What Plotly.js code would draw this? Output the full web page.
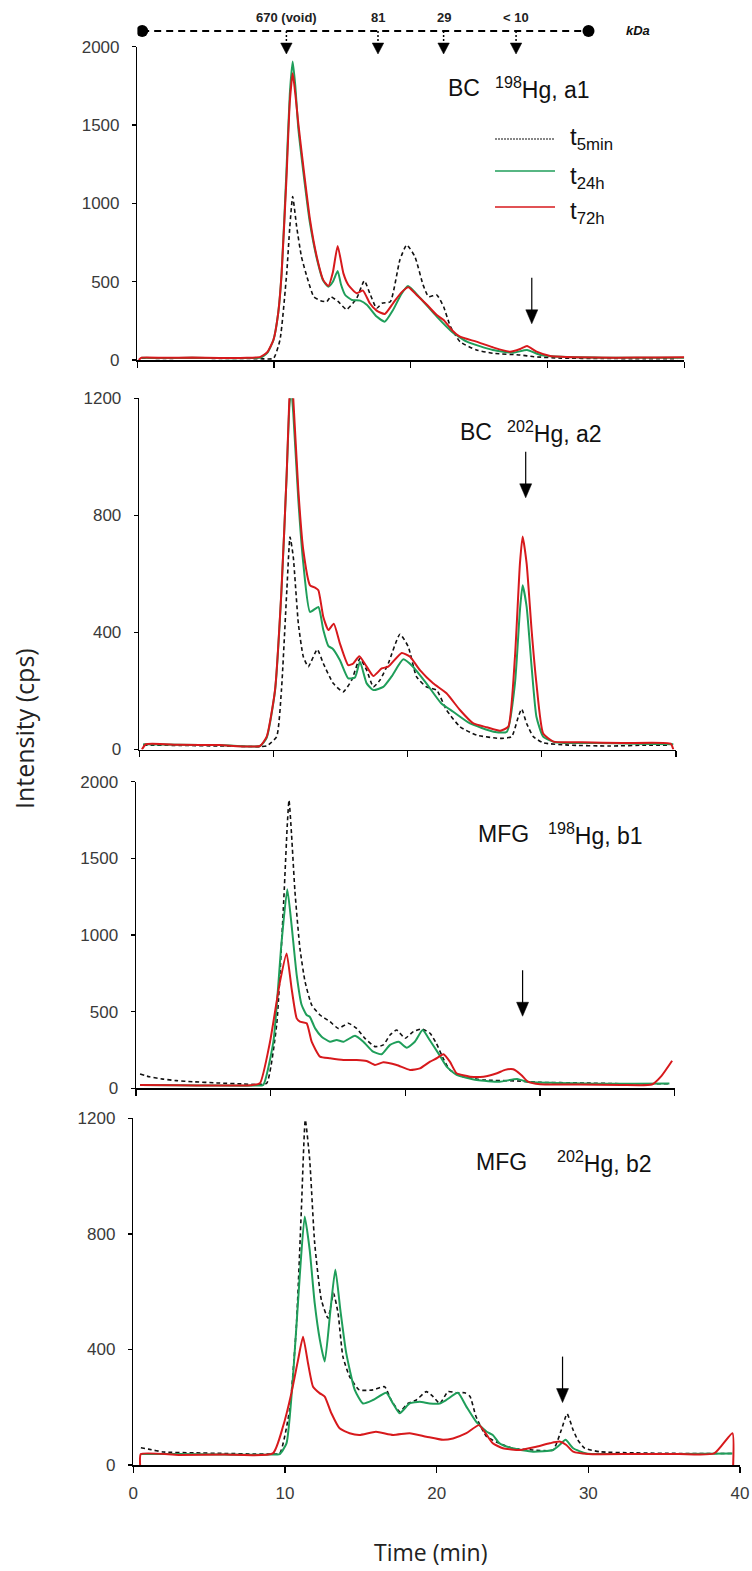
<!DOCTYPE html>
<html>
<head>
<meta charset="utf-8">
<script src="https://cdn.plot.ly/plotly-3.0.1.min.js"></script>
<style>html,body{margin:0;padding:0;background:#fff;}#chart{width:752px;height:1571px;}</style>
</head>
<body>
<div id="chart"></div>
<script>
// ---------- DATA (time in min, intensity in cps) ----------
// Panel a1: BC 198Hg
const a1_t5_x = [0.3,2,4,6,8,9,9.95,10.43,10.92,11.15,11.36,11.65,12.0,12.4,12.9,13.4,13.85,14.14,14.7,15.3,16.04,16.6,17.0,17.5,17.9,18.5,19.2,19.7,20.3,20.9,21.3,21.9,22.4,22.9,23.6,24.8,26.0,28.0,29.0,31,34,37,39.5];
const a1_t5_y = [12,10,12,10,10,8,10,128,553,850,1043,851,660,532,404,379,372,404,372,323,394,506,426,330,362,372,638,734,660,479,404,415,340,213,117,64,43,32,21,12,10,8,8];
const a1_t24_x = [0.3,2,4,6,8,9.0,9.5,9.95,10.3,10.55,10.9,11.15,11.36,11.55,11.77,12.14,12.63,13.12,13.6,13.97,14.3,14.65,14.9,15.2,15.7,16.3,16.8,17.5,18.1,18.7,19.3,19.8,20.7,21.9,23.0,24.1,26.0,27.5,28.5,29.5,31,34,37,40];
const a1_t24_y = [15,12,14,12,12,15,45,128,300,553,1200,1700,1905,1750,1480,1200,870,650,505,468,500,568,480,415,383,379,351,277,245,319,420,472,394,277,181,117,64,47,64,32,20,15,15,15];
const a1_t72_x = [0.1,0.3,2,4,6,8,9.0,9.5,9.95,10.3,10.55,10.9,11.15,11.36,11.55,11.77,12.14,12.63,13.12,13.6,13.97,14.3,14.65,15.07,15.43,16.04,16.5,17.0,17.5,18.1,18.7,19.3,19.82,20.43,21.2,21.9,22.4,23.0,23.6,24.8,26.0,27.26,28.0,28.5,29.2,30.2,32,35,38,40];
const a1_t72_y = [0,15,14,16,13,14,20,50,128,300,553,1150,1650,1830,1700,1511,1234,894,660,510,472,560,728,553,479,426,443,362,315,294,362,430,464,415,351,287,255,192,149,117,81,53,70,89,53,26,18,15,16,18];

// Panel a2: BC 202Hg
const a2_t5_x = [0.3,3,6,9,9.5,10.24,10.6,11.0,11.24,11.48,11.86,12.23,12.6,13.27,13.72,14.46,15.2,15.83,16.45,16.95,17.45,17.94,18.56,19.43,20.05,20.67,21.4,22.16,22.9,23.9,25.15,26.9,27.75,28.25,28.5,28.87,29.37,30.1,32,35,38,39.5];
const a2_t5_y = [15,14,12,10,12,44,203,544,726,658,430,317,283,342,294,226,197,237,311,271,214,237,294,394,351,248,214,203,135,78,49,38,44,112,138,89,44,23,15,12,15,15];
const a2_t24_x = [0.3,3,6,9.0,9.5,10.12,10.6,10.99,11.2,11.33,11.48,11.86,12.23,12.73,13.35,13.72,14.1,14.4,14.96,15.58,16.08,16.45,16.95,17.45,18.19,18.8,19.68,20.4,21.4,22.5,23.4,24.65,26.4,27.4,28.0,28.37,28.57,28.87,29.24,29.6,30.1,31,34,37,39.8];
const a2_t24_y = [18,16,15,12,40,200,540,940,1180,1230,1150,851,635,470,487,408,353,345,305,243,246,300,226,203,214,249,308,283,226,158,129,89,61,61,226,476,561,487,283,112,44,25,22,20,18];
const a2_t72_x = [0.2,0.5,3,6,9.0,9.5,10.12,10.6,10.99,11.19,11.33,11.48,11.86,12.23,12.73,13.1,13.35,13.72,14.1,14.5,14.96,15.58,15.95,16.4,16.95,17.45,18.07,18.56,19.56,20.18,20.92,21.9,22.9,23.9,24.9,25.9,26.9,27.5,28.0,28.37,28.57,28.87,29.24,29.6,30.1,30.86,33,36,39.6,39.8];
const a2_t72_y = [0,18,16,15,12,44,203,544,942,1200,1290,1200,885,680,561,553,544,453,408,430,362,288,294,319,283,251,277,283,330,317,271,226,192,135,89,76,64,78,317,635,728,635,408,226,55,27,25,22,20,0];

// Panel b1: MFG 198Hg
const b1_t5_x = [0.3,1,2,3,4.2,6,8,9.0,9.7,10.44,10.94,11.23,11.36,11.55,11.8,12.17,12.55,13.04,13.66,14.4,15.02,15.76,16.38,17.0,17.74,18.36,18.86,19.35,19.97,20.59,21.2,21.83,22.3,22.8,23.3,24.3,25.8,28.3,30.0,33,36,39.5];
const b1_t5_y = [93,75,60,50,43,35,28,25,33,413,1174,1717,1880,1652,1283,913,696,544,478,435,391,424,391,326,272,283,348,380,326,370,387,359,293,196,120,76,54,48,39,35,30,30];
const b1_t24_x = [0.3,3,6,9.0,9.45,10.2,10.81,11.23,11.55,11.93,12.3,12.67,12.9,13.3,13.78,14.4,14.9,15.4,16.26,16.88,17.6,18.24,18.86,19.5,20.1,20.7,21.28,21.8,22.45,23.06,23.8,25.3,27.0,28.3,29.0,31,34,37,39.6];
const b1_t24_y = [22,20,18,18,22,304,957,1298,1065,739,543,478,467,391,337,304,315,304,343,304,239,222,283,304,265,304,380,315,228,141,87,54,43,61,43,35,30,30,32];
const b1_t72_x = [0.3,3,6,8.5,9.2,9.95,10.69,11.18,11.55,11.93,12.17,12.67,13.04,13.66,14.4,15.4,16.38,17.12,17.74,18.36,19.35,20.34,21.08,21.83,22.32,22.82,23.3,23.8,24.8,25.8,26.8,27.4,28.0,28.6,29.1,30.0,33,36,38.3,39.0,39.8];
const b1_t72_y = [22,20,18,20,33,304,696,880,652,456,435,424,304,207,196,185,185,178,152,170,152,120,130,174,196,222,174,98,76,76,98,120,124,87,43,26,25,22,25,80,180];

// Panel b2: MFG 202Hg
const b2_t5_x = [0.5,1,2,4,6,8,9.0,9.65,10.3,10.75,11.08,11.34,11.63,11.96,12.4,12.84,13.2,13.5,13.82,14.26,14.9,15.8,16.57,17.0,17.56,18.1,18.66,19.32,19.76,20.2,20.75,21.3,21.85,22.2,22.6,23.3,24.15,25.0,26.35,27.67,28.22,28.6,29.0,29.3,29.76,30.75,33,36,39.5];
const b2_t5_y = [60,55,45,42,40,38,38,40,190,479,883,1194,1056,767,571,508,594,525,375,306,260,260,271,225,185,213,225,254,237,213,254,250,250,237,167,98,75,58,52,52,121,177,121,87,58,46,42,40,40];
const b2_t24_x = [0.5,3,6,9.0,9.65,10.1,10.53,10.97,11.3,11.63,11.96,12.3,12.62,13.0,13.32,13.65,14.04,14.6,15.14,15.8,16.68,17.12,17.56,18.22,18.88,19.54,20.2,20.64,21.4,21.96,22.6,23.3,23.7,24.15,25.0,26.35,27.67,28.1,28.5,29.0,29.87,33,36,39.5];
const b2_t24_y = [38,38,36,36,38,75,306,652,860,744,560,433,358,537,677,537,387,260,213,225,250,213,179,213,219,213,213,225,250,202,150,115,104,75,58,46,52,69,87,58,40,38,38,40];
const b2_t72_x = [0.45,0.5,3,6,9.2,9.87,10.42,10.86,11.19,11.52,11.85,12.3,12.62,13.06,13.6,14.26,14.9,16.0,17.12,18.22,19.32,20.42,21.08,21.96,22.8,23.3,23.7,24.37,25.5,26.57,27.45,28.1,28.55,29.0,30,33,36,38.3,39.5,39.55];
const b2_t72_y = [0,38,35,36,40,133,248,363,444,352,271,248,237,179,127,110,104,115,104,110,98,87,92,110,138,104,75,58,52,63,75,81,69,46,38,38,38,40,110,0];

// Labels / ticks
const seriesNames = ["t<sub>5min</sub>", "t<sub>24h</sub>", "t<sub>72h</sub>"];
const panelSample = ["BC", "BC", "MFG", "MFG"];
const panelIso = ["<sup>198</sup>Hg, a1", "<sup>202</sup>Hg, a2", "<sup>198</sup>Hg, b1", "<sup>202</sup>Hg, b2"];
const xTicks = [0, 10, 20, 30, 40];
const yMax = [2000, 1200, 2000, 1200];
const yStep = [500, 400, 500, 400];
const kdaTimes = [10.9, 17.6, 22.4, 27.7];
const kdaLabels = ["670 (void)", "81", "29", "< 10"];
const kdaEnds = [0.35, 33.0];
// marker arrows (time, tip intensity) per panel
const markTime = [28.85, 28.8, 28.7, 28.3];
const markTip = [231, 860, 470, 216];

// ---------- STYLE ----------
const W = 752, H = 1571;
const px = v => v / W, py = v => 1 - v / H;
const cBlack = '#111111', cGreen = '#1f9e5a', cRed = '#d7191c';
const tickFont = {family: 'Liberation Sans, Arial, sans-serif', size: 17, color: '#3a3a3a'};
const labelFont = {family: 'Liberation Sans, Arial, sans-serif', size: 23, color: '#111'};

const domX = [[137.4, 684.2], [139.2, 676.0], [136.0, 674.8], [133.3, 740.0]];
const domY = [[46.7, 360.0], [398.3, 749.5], [781.7, 1088.3], [1118.3, 1465.0]];

const data = [];
const allX = [[a1_t5_x,a1_t24_x,a1_t72_x],[a2_t5_x,a2_t24_x,a2_t72_x],[b1_t5_x,b1_t24_x,b1_t72_x],[b2_t5_x,b2_t24_x,b2_t72_x]];
const allY = [[a1_t5_y,a1_t24_y,a1_t72_y],[a2_t5_y,a2_t24_y,a2_t72_y],[b1_t5_y,b1_t24_y,b1_t72_y],[b2_t5_y,b2_t24_y,b2_t72_y]];
const lineStyles = [
  {color: cBlack, width: 1.6, dash: '4px,3px', shape: 'spline', smoothing: 0.5},
  {color: cGreen, width: 2, shape: 'spline', smoothing: 0.5},
  {color: cRed, width: 2, shape: 'spline', smoothing: 0.5}
];
for (let p = 0; p < 4; p++) {
  const sfx = p === 0 ? '' : String(p + 1);
  [0, 1, 2].forEach(s => {
    data.push({
      type: 'scatter', mode: 'lines',
      x: allX[p][s], y: allY[p][s],
      name: seriesNames[s],
      line: lineStyles[s],
      xaxis: 'x' + sfx, yaxis: 'y' + sfx,
      showlegend: false, hoverinfo: 'skip'
    });
  });
}

const layout = {
  width: W, height: H,
  margin: {l: 0, r: 0, t: 0, b: 0},
  paper_bgcolor: '#fff', plot_bgcolor: 'rgba(0,0,0,0)',
  showlegend: false,
  annotations: [], shapes: []
};

for (let p = 0; p < 4; p++) {
  const sfx = p === 0 ? '' : String(p + 1);
  layout['xaxis' + sfx] = {
    domain: [px(domX[p][0]), px(domX[p][1])],
    anchor: 'y' + sfx,
    range: [0, 40], tickvals: xTicks,
    showticklabels: p === 3,
    ticks: 'outside', ticklen: 6, tickwidth: 1.3, tickcolor: '#000',
    showline: true, linecolor: '#000', linewidth: 1.5,
    showgrid: false, zeroline: false,
    tickfont: tickFont, ticklabelstandoff: 6,
    fixedrange: true
  };
  const yt = [];
  for (let v = 0; v <= yMax[p]; v += yStep[p]) yt.push(v);
  layout['yaxis' + sfx] = {
    domain: [py(domY[p][1]), py(domY[p][0])],
    anchor: 'x' + sfx,
    range: [0, yMax[p]], tickvals: yt,
    ticks: 'outside', ticklen: 4, tickwidth: 1.3, tickcolor: '#000',
    showline: true, linecolor: '#000', linewidth: 1.5,
    showgrid: false, zeroline: false,
    tickfont: tickFont, ticklabelstandoff: 9,
    fixedrange: true
  };
  // panel labels
  const labPos = [[446, 493, 88], [458, 505, 432], [476, 546, 834], [474, 555, 1162]][p];
  layout.annotations.push({
    xref: 'paper', yref: 'paper', x: px(labPos[0]), y: py(labPos[2]),
    xanchor: 'left', yanchor: 'middle', showarrow: false,
    text: panelSample[p], font: labelFont
  });
  layout.annotations.push({
    xref: 'paper', yref: 'paper', x: px(labPos[1]), y: py(labPos[2]),
    xanchor: 'left', yanchor: 'middle', showarrow: false,
    text: panelIso[p], font: labelFont
  });
  // marker arrows: stem + triangular head (sizes in pixels, anchored at the tip)
  layout.shapes.push({
    type: 'line', xref: 'x' + sfx, yref: 'y' + sfx,
    xsizemode: 'pixel', ysizemode: 'pixel', xanchor: markTime[p], yanchor: markTip[p],
    x0: 0, x1: 0, y0: 12, y1: 46,
    line: {color: '#000', width: 1.2}
  });
  layout.shapes.push({
    type: 'path', xref: 'x' + sfx, yref: 'y' + sfx,
    xsizemode: 'pixel', ysizemode: 'pixel', xanchor: markTime[p], yanchor: markTip[p],
    path: 'M-6,14 L6,14 L0,0 Z',
    fillcolor: '#000', line: {color: '#000', width: 0.5}
  });
}

// legend (panel a1)
const legY = [139, 171, 207];
const legTextY = [139, 177, 212];
for (let s = 0; s < 3; s++) {
  layout.shapes.push({
    type: 'line', xref: 'paper', yref: 'paper',
    x0: px(495), x1: px(555), y0: py(legY[s]), y1: py(legY[s]),
    line: s === 0 ? {color: cBlack, width: 1.1, dash: '2px,1px'} : {color: lineStyles[s].color, width: 1.6}
  });
  layout.annotations.push({
    xref: 'paper', yref: 'paper', x: px(568), y: py(legTextY[s]),
    xanchor: 'left', yanchor: 'middle', showarrow: false,
    text: seriesNames[s], font: {family: 'Liberation Sans, Arial, sans-serif', size: 24, color: '#111'}
  });
}

// kDa scale across the top (positions in a1 time units)
const kTop = 31, kArrowTop = 43, kArrowTip = 54;
layout.shapes.push({
  type: 'line', xref: 'x', yref: 'paper', x0: kdaEnds[0], x1: kdaEnds[1], y0: py(kTop), y1: py(kTop),
  line: {color: '#000', width: 2, dash: '7px,5px'}
});
kdaEnds.forEach(t => {
  layout.shapes.push({
    type: 'circle', xref: 'x', yref: 'paper', xsizemode: 'pixel', ysizemode: 'pixel',
    xanchor: t, yanchor: py(kTop), x0: -6, x1: 6, y0: -6, y1: 6,
    fillcolor: '#000', line: {color: '#000', width: 0}
  });
});
kdaTimes.forEach((t, i) => {
  layout.shapes.push({
    type: 'line', xref: 'x', yref: 'paper', x0: t, x1: t, y0: py(kTop), y1: py(kArrowTop),
    line: {color: '#000', width: 1.5, dash: '2px,2px'}
  });
  layout.shapes.push({
    type: 'path', xref: 'x', yref: 'paper',
    path: 'M' + (t - 0.42) + ',' + py(kArrowTop) + ' L' + (t + 0.42) + ',' + py(kArrowTop) + ' L' + t + ',' + py(kArrowTip) + ' Z',
    fillcolor: '#000', line: {color: '#000', width: 0.5}
  });
  layout.annotations.push({
    xref: 'x', yref: 'paper', x: t, y: py(17), xanchor: 'center', yanchor: 'middle',
    showarrow: false, text: '<b>' + kdaLabels[i] + '</b>',
    font: {family: 'Liberation Sans Narrow, Liberation Sans, Arial, sans-serif', size: 13, color: '#222'}
  });
});
layout.annotations.push({
  xref: 'x', yref: 'paper', x: 36.6, y: py(31), xanchor: 'center', yanchor: 'middle',
  showarrow: false, text: '<b><i>kDa</i></b>',
  font: {family: 'Liberation Sans, Arial, sans-serif', size: 13, color: '#111'}
});

// axis titles
layout.annotations.push({
  xref: 'paper', yref: 'paper', x: px(24), y: py(729), textangle: -90,
  xanchor: 'center', yanchor: 'middle', showarrow: false,
  text: 'Intensity (cps)', font: {family: 'Open Sans, sans-serif', size: 25, color: '#222'}
});
layout.annotations.push({
  xref: 'paper', yref: 'paper', x: px(431), y: py(1552),
  xanchor: 'center', yanchor: 'middle', showarrow: false,
  text: 'Time (min)', font: {family: 'Open Sans, sans-serif', size: 23, color: '#222'}
});

Plotly.newPlot('chart', data, layout, {staticPlot: true, displayModeBar: false});
</script>
</body>
</html>
